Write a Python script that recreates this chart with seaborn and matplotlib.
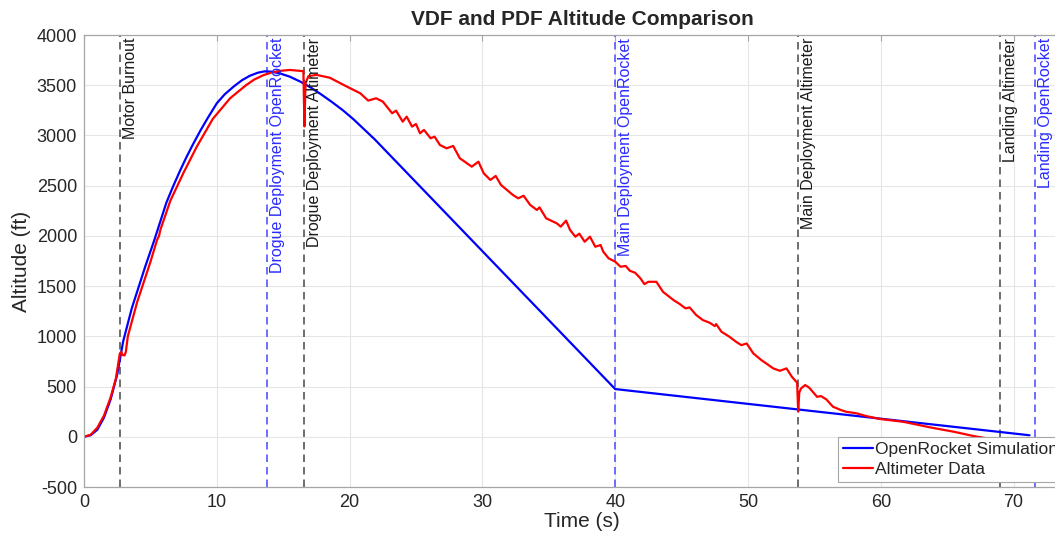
import pandas as pd
import seaborn as sns
import matplotlib.pyplot as plt
from matplotlib.transforms import blended_transform_factory

# OpenRocket simulation (time s, altitude ft)
sim_time = [0.0, 0.5, 1.0, 1.5, 2.0, 2.5, 2.95, 3.6, 4.6, 5.3, 6.2, 6.7, 7.2,
            7.7, 8.2, 8.75, 9.3, 10.0, 10.6, 11.3, 11.9, 12.5, 13.1, 13.6,
            14.1, 14.7, 15.5, 16.3, 17.1, 17.9, 18.7, 19.5, 20.3, 21.1, 21.9,
            22.7, 40.0, 71.2]
sim_alt = [0, 15, 70, 190, 370, 620, 950, 1280, 1690, 1960, 2330, 2490, 2640,
           2780, 2910, 3045, 3170, 3320, 3410, 3490, 3550, 3595, 3625, 3638,
           3635, 3620, 3585, 3535, 3475, 3405, 3330, 3250, 3160, 3060, 2960,
           2850, 475, 15]

# altimeter flight data (time s, altitude ft)
alt_time = [0.0, 0.5, 1.0, 1.5, 2.0, 2.4, 2.7, 2.8, 2.9, 3.05, 3.15, 3.3, 4.0,
            5.0, 5.5, 5.65, 5.75, 6.5, 7.5, 8.5, 9.7, 11.0, 12.2, 12.8, 13.5,
            14.1, 14.7, 15.5, 16.52, 16.6, 16.68, 16.9, 17.5, 18.5, 19.8, 20.8,
            21.4, 22.0, 22.5, 23.2, 23.5, 24.0, 24.3, 24.7, 25.0, 25.3, 25.6,
            26.1, 26.4, 26.8, 27.3, 27.8, 28.3, 29.2, 29.7, 30.1, 30.6, 31.0,
            31.4, 32.3, 32.7, 33.1, 33.6, 34.1, 34.3, 34.8, 35.6, 35.9, 36.3,
            36.6, 37.0, 37.3, 37.7, 38.1, 38.5, 38.9, 39.1, 39.5, 40.0, 40.4,
            40.8, 41.1, 41.5, 41.9, 42.2, 42.5, 43.1, 43.6, 44.4, 44.8, 45.3,
            45.6, 46.1, 46.6, 47.1, 47.5, 47.6, 48.0, 48.6, 49.1, 49.5, 49.9,
            50.4, 51.0, 51.9, 52.4, 52.9, 53.3, 53.7, 53.78, 53.86, 54.0, 54.3,
            54.6, 55.2, 55.5, 55.9, 56.4, 57.0, 57.4, 58.2, 58.9, 59.9, 61.7,
            63.7, 65.5, 67.0, 68.8, 69.0]
alt_alt = [0, 20, 90, 210, 390, 580, 830, 845, 815, 810, 845, 1000, 1340,
           1740, 1960, 2000, 2060, 2350, 2630, 2890, 3165, 3370, 3500, 3555,
           3600, 3625, 3642, 3652, 3640, 3090, 3520, 3590, 3603, 3575, 3486,
           3420, 3347, 3370, 3337, 3221, 3247, 3137, 3187, 3088, 3114, 3022,
           3055, 2972, 2988, 2905, 2872, 2895, 2773, 2689, 2739, 2623, 2557,
           2597, 2507, 2407, 2374, 2400, 2308, 2258, 2284, 2175, 2125, 2092,
           2152, 2059, 1992, 2022, 1942, 1992, 1892, 1909, 1843, 1777, 1743,
           1693, 1700, 1653, 1633, 1577, 1520, 1543, 1543, 1443, 1360, 1327,
           1278, 1288, 1212, 1162, 1136, 1102, 1122, 1046, 996, 946, 912, 929,
           830, 764, 681, 657, 681, 598, 538, 250, 440, 482, 515, 490, 398,
           405, 372, 299, 266, 249, 233, 206, 178, 149, 94, 50, 7, -33, -38]

# event markers
event_times = [2.7, 13.8, 16.6, 40.0, 53.8, 69.0, 71.6]
event_labels = ["Motor Burnout", "Drogue Deployment OpenRocket",
                "Drogue Deployment Altimeter", "Main Deployment OpenRocket",
                "Main Deployment Altimeter", "Landing Altimeter",
                "Landing OpenRocket"]
event_source = ["alt", "sim", "alt", "sim", "alt", "alt", "sim"]

sns.set_theme(style="whitegrid")
plt.rcParams["font.family"] = ["Liberation Sans", "DejaVu Sans"]
plt.rcParams["axes.unicode_minus"] = False

sim = pd.DataFrame({"t": sim_time, "alt": sim_alt})
flight = pd.DataFrame({"t": alt_time, "alt": alt_alt})

fig = plt.figure(figsize=(10.55, 5.39), dpi=100)
ax = fig.add_axes([84 / 1055, 52 / 539, 996 / 1055, 452 / 539])
ax.set_facecolor("white")

sns.lineplot(data=sim, x="t", y="alt", ax=ax, color="#0000ff", lw=1.6,
             sort=False, estimator=None, label="OpenRocket Simulation")
sns.lineplot(data=flight, x="t", y="alt", ax=ax, color="#ff0000", lw=1.6,
             sort=False, estimator=None, label="Altimeter Data")

trans = blended_transform_factory(ax.transData, ax.transAxes)
for t, lab, src in zip(event_times, event_labels, event_source):
    if src == "sim":
        lcol, tcol = "#5555ff", "#2b2bff"
    else:
        lcol, tcol = "#555555", "#1a1a1a"
    ax.axvline(t, color=lcol, ls=(0, (4.5, 3)), lw=1.2, zorder=1)
    ax.annotate(lab, xy=(t, 1), xycoords=trans, xytext=(2, -2),
                textcoords="offset points", rotation=90, ha="left", va="top",
                fontsize=11.5, color=tcol)

ax.set_xlim(0, 75)
ax.set_ylim(-500, 4000)
ax.set_xticks(range(0, 71, 10))
ax.set_yticks(range(-500, 4001, 500))
ax.grid(True, color="#e6e6e6", lw=0.8)
for s in ax.spines.values():
    s.set_color("#a6a6a6")
    s.set_linewidth(0.9)
ax.tick_params(direction="in", length=4, width=0.8, color="#a6a6a6",
               labelsize=13, labelcolor="#262626", top=True, right=True,
               pad=5)

ax.set_xlabel("Time (s)", fontsize=15, color="#262626", labelpad=1)
ax.set_ylabel("Altitude (ft)", fontsize=15, color="#262626", labelpad=4)
ax.set_title("VDF and PDF Altitude Comparison", fontsize=15,
             fontweight="bold", color="#262626", pad=7)

leg = ax.legend(loc="lower left", bbox_to_anchor=(0.757, 0.011),
                borderaxespad=0, fontsize=12.5, frameon=True, fancybox=False,
                framealpha=1, edgecolor="#a6a6a6", borderpad=0.3,
                handlelength=1.7, handletextpad=0.15, labelspacing=0.25)
leg.get_frame().set_linewidth(0.8)
for txt in leg.get_texts():
    txt.set_color("#262626")

fig.savefig("out.png", dpi=100)
plt.close(fig)
